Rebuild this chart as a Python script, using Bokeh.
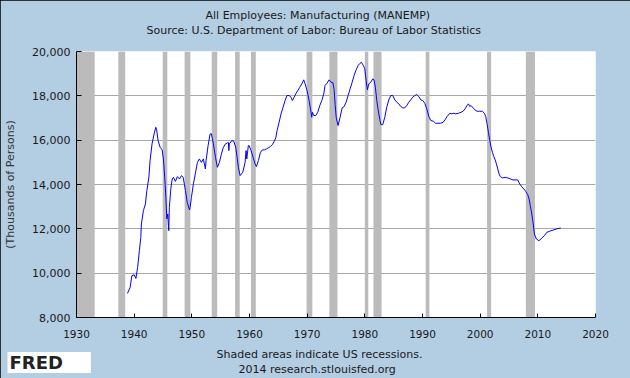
import math
from bokeh.plotting import figure
from bokeh.models import ColumnDataSource, Title, FixedTicker, NumeralTickFormatter
from bokeh.embed import file_html
from bokeh.resources import INLINE

# ---- data (thousands of persons) ----
years = [
    1938.83, 1939.3, 1939.6, 1940.0, 1940.3, 1940.6, 1940.9, 1941.15, 1941.25, 1941.6, 1941.95,
    1942.2, 1942.55, 1942.76, 1943.1, 1943.46, 1943.75, 1943.9, 1944.15, 1944.5, 1944.85, 1945.07,
    1945.3, 1945.5, 1945.66, 1945.83, 1946.0, 1946.1, 1946.35, 1946.6, 1946.8, 1947.15, 1947.5,
    1947.85, 1948.2, 1948.5, 1948.9, 1949.2, 1949.6, 1949.7, 1949.93,
    1950.27, 1950.6, 1950.97, 1951.3, 1951.66, 1952.0, 1952.35, 1952.47, 1952.82, 1953.17, 1953.4,
    1953.74, 1954.1, 1954.43, 1954.78, 1955.13, 1955.47, 1955.82, 1956.17, 1956.35, 1956.42, 1956.5,
    1956.93, 1957.27, 1957.62, 1957.85, 1958.07, 1958.37, 1958.83, 1959.24, 1959.4, 1959.53, 1959.8,
    1959.93,
    1960.28, 1960.62, 1960.97, 1961.2, 1961.54, 1961.9, 1962.23, 1962.58, 1962.93, 1963.27, 1963.62,
    1963.97, 1964.3, 1964.56, 1964.78, 1965.13, 1965.47, 1965.82, 1966.17, 1966.5, 1966.87, 1967.2,
    1967.44, 1967.68, 1968.03, 1968.37, 1968.72, 1969.07, 1969.41, 1969.64, 1969.98,
    1970.33, 1970.67, 1970.8, 1970.9, 1971.15, 1971.5, 1971.84, 1972.19, 1972.54, 1972.88, 1973.1,
    1973.45, 1973.8, 1974.15, 1974.45, 1974.67, 1974.85, 1975.05, 1975.36, 1975.71, 1976.06, 1976.41,
    1976.75, 1977.1, 1977.45, 1977.8, 1978.14, 1978.49, 1978.84, 1979.18, 1979.4, 1979.75, 1979.99,
    1980.22, 1980.44, 1980.69, 1981.03, 1981.38, 1981.6, 1981.83, 1982.07, 1982.42, 1982.77, 1983.11,
    1983.46, 1983.8, 1984.15, 1984.5, 1984.85, 1985.2, 1985.54, 1985.9, 1986.23, 1986.58, 1986.93,
    1987.27, 1987.62, 1987.97, 1988.3, 1988.66, 1989.0, 1989.35, 1989.7,
    1990.05, 1990.4, 1990.74, 1991.1, 1991.44, 1991.9, 1992.25, 1992.5, 1993.1, 1993.57, 1993.9,
    1994.26, 1994.73, 1995.08, 1995.42, 1995.77, 1996.23, 1996.7, 1997.04, 1997.38, 1997.73, 1997.96,
    1998.2, 1998.42, 1998.77, 1999.1, 1999.46, 1999.93,
    2000.38, 2000.73, 2000.97, 2001.2, 2001.43, 2001.67, 2001.9, 2002.12, 2002.36, 2002.6, 2002.82,
    2003.05, 2003.28, 2003.5, 2003.86, 2004.32, 2004.8, 2005.24, 2005.7, 2006.17, 2006.5, 2006.86,
    2007.2, 2007.56, 2007.9, 2008.25, 2008.48, 2008.7, 2008.95, 2009.2, 2009.4, 2009.75,
    2010.2, 2010.7, 2011.13, 2011.55, 2012.1, 2012.7, 2013.3, 2013.98,
]
employees = [
    9084, 9355, 9883, 9928, 9762, 10258, 11012, 11613, 12219, 12819, 13122,
    13722, 14323, 15078, 15832, 16283, 16582, 16464, 15981, 15678, 15561, 15154,
    14323, 13420, 12444, 12670, 11916, 12968, 13800, 14251, 14323, 14142, 14355,
    14251, 14400, 14323, 13722, 13194, 12850, 12968, 13420,
    14025, 14477, 15000, 15154, 15000, 15154, 14702, 15078, 15755, 16283, 16283,
    15832, 15227, 14775, 15000, 15380, 15678, 15832, 15877, 15890, 15529, 15832,
    15981, 15950, 15678, 15227, 14775, 14400, 14550, 15000, 15529, 15154, 15755,
    15755,
    15529, 15227, 14930, 14806, 15078, 15453, 15561, 15561, 15605, 15651, 15710,
    15800, 15950, 16103, 16432, 16807, 17187, 17485, 17788, 18013, 18013, 17937,
    17788, 17909, 18090, 18239, 18388, 18542, 18722, 18542, 18239,
    17788, 17260, 17033, 17260, 17110, 17110, 17260, 17562, 17788, 18090, 18465,
    18569, 18722, 18614, 18600, 18300, 17600, 17000, 16660, 17033, 17458, 17516,
    17710, 18013, 18316, 18614, 18916, 19174, 19368, 19472, 19517, 19368, 19219,
    18690, 18270, 18542, 18614, 18768, 18722, 18388, 17788, 17187, 16703, 16703,
    17033, 17485, 17818, 18013, 18013, 17818, 17710, 17638, 17516, 17458, 17458,
    17562, 17710, 17818, 17937, 18013, 18058, 17968, 17818,
    17788, 17665, 17413, 17065, 16885, 16850, 16762, 16762, 16762, 16807, 16916,
    17065, 17213, 17187, 17213, 17187, 17213, 17260, 17304, 17413, 17562, 17638,
    17516, 17562, 17458, 17367, 17304, 17304,
    17304, 17213, 17065, 16735, 16356, 15981, 15678, 15453, 15260, 15110, 14930,
    14702, 14477, 14355, 14296, 14323, 14296, 14251, 14206, 14206, 14206, 14025,
    13903, 13800, 13691, 13542, 13348, 13045, 12670, 12219, 11767, 11541,
    11464, 11586, 11690, 11840, 11900, 11948, 12000, 12038,
]
assert len(years) == len(employees)

recession_start = [1929.67, 1937.25, 1944.95, 1948.75, 1953.45, 1957.5, 1960.25, 1969.9,
                   1973.85, 1980.0, 1981.5, 1990.55, 2001.2, 2007.92]
recession_end = [1933.15, 1938.45, 1945.75, 1949.75, 1954.4, 1958.3, 1961.1, 1970.9,
                 1975.25, 1980.6, 1982.9, 1991.2, 2001.9, 2009.5]

x_ticks = [1930, 1940, 1950, 1960, 1970, 1980, 1990, 2000, 2010, 2020]
y_ticks = [8000, 10000, 12000, 14000, 16000, 18000, 20000]

title_1 = "All Employees: Manufacturing (MANEMP)"
title_2 = "Source: U.S. Department of Labor: Bureau of Labor Statistics"
y_label = "(Thousands of Persons)"
note_1 = "Shaded areas indicate US recessions."
note_2 = "2014 research.stlouisfed.org"
logo = "FRED"

BG = "#B3CDE3"
FONT = "DejaVu Sans"
TXT = "#1a1a1a"

p = figure(width=630, height=378, x_range=(1930, 2020), y_range=(8000, 20000),
           output_backend="svg", toolbar_location=None,
           min_border_left=76, min_border_right=35, min_border_top=51, min_border_bottom=61)
p.border_fill_color = BG
p.background_fill_color = "white"
p.outline_line_color = None
try:
    p.styles = {"outline": "1px solid black", "outline-offset": "-1px"}
except Exception:
    pass

src_rec = ColumnDataSource(dict(left=recession_start, right=recession_end,
                                bottom=[y_ticks[0]] * len(recession_start),
                                top=[y_ticks[-1]] * len(recession_start)))
p.quad(left="left", right="right", bottom="bottom", top="top", source=src_rec,
       fill_color="#BBBBBB", line_color=None)

src = ColumnDataSource(dict(year=years, value=employees))
p.line(x="year", y="value", source=src, line_color="#0000FF", line_width=1)

# grid
p.xgrid.visible = False
p.ygrid.grid_line_color = "#A8A8A8"
p.ygrid.grid_line_width = 1
p.ygrid.ticker = FixedTicker(ticks=y_ticks)

# axes
for ax in (p.xaxis[0], p.yaxis[0]):
    ax.axis_line_color = "black"
    ax.major_tick_line_color = "black"
    ax.minor_tick_line_color = None
    ax.major_tick_out = 0
    ax.major_label_text_font = FONT
    ax.major_label_text_color = TXT

p.xaxis.ticker = FixedTicker(ticks=x_ticks)
p.xaxis.major_tick_in = 4
p.xaxis.major_label_text_font_size = "10.5px"
p.xaxis.major_label_standoff = 12

p.yaxis.ticker = FixedTicker(ticks=y_ticks)
p.yaxis.formatter = NumeralTickFormatter(format="0,0")
p.yaxis.major_tick_in = 5
p.yaxis.major_label_text_font_size = "11px"
p.yaxis.major_label_standoff = 6
p.yaxis.axis_label = y_label
p.yaxis.axis_label_text_font = FONT
p.yaxis.axis_label_text_font_size = "11px"
p.yaxis.axis_label_text_font_style = "normal"
p.yaxis.axis_label_text_color = "#333333"
p.yaxis.axis_label_standoff = 12


def title(txt, offset, standoff, size="11px", style="normal", color=TXT, **kw):
    return Title(text=txt, align="left", offset=offset, standoff=standoff,
                 text_font=FONT, text_font_size=size, text_font_style=style,
                 text_color=color, **kw)


# above: first added sits nearest the frame
p.add_layout(title(title_2, 70, 29), "above")
p.add_layout(title(title_1, 129, -28), "above")
# below: after the x axis, outward
p.add_layout(title(note_1, 140, 10), "below")
p.add_layout(title(note_2, 162, -8.8), "below")
fred = title(logo, -69, -39, size="18px", style="bold", color="#222222",
             background_fill_color="white", vertical_align="top")
if "padding" in Title.properties():
    try:
        fred.padding = dict(left=2, right=28, top=0, bottom=0)
    except Exception:
        pass
p.add_layout(fred, "below")

open("out.html", "w").write(file_html(p, INLINE))
